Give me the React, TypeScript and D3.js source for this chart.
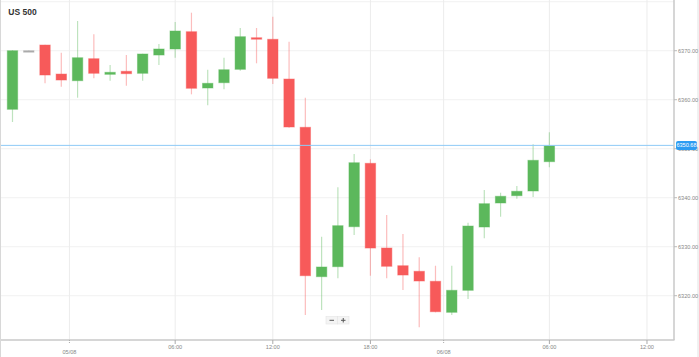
import React from "react";
import * as d3 from "d3";

const title = "US 500";
const opens = [6358.04, 6370.0, 6371.16, 6365.24, 6363.88, 6368.37, 6365.18, 6365.8, 6365.39, 6369.12, 6370.35, 6373.88, 6362.39, 6363.47, 6366.2, 6372.65, 6372.33, 6364.22, 6354.37, 6323.88, 6325.92, 6334.08, 6347.02, 6329.73, 6326.12, 6324.98, 6322.94, 6316.61, 6321.1, 6334.02, 6338.92, 6340.41, 6341.37, 6347.35];
const highs = [6370.1, 6370.1, 6371.2, 6369.6, 6376.06, 6373.35, 6367.08, 6369.12, 6369.4, 6371.37, 6375.86, 6377.76, 6366.12, 6368.57, 6374.63, 6374.63, 6376.94, 6371.84, 6360.41, 6332.04, 6342.12, 6348.92, 6347.84, 6336.47, 6332.59, 6327.84, 6326.12, 6326.12, 6334.9, 6341.57, 6341.02, 6342.39, 6350.9, 6353.35];
const lows = [6355.45, 6369.9, 6363.35, 6362.65, 6360.41, 6364.37, 6363.88, 6362.86, 6363.88, 6367.08, 6368.57, 6361.1, 6358.86, 6362.12, 6365.92, 6367.43, 6363.2, 6354.3, 6316.06, 6317.08, 6323.55, 6332.39, 6324.08, 6323.55, 6321.16, 6313.57, 6316.6, 6316.06, 6319.33, 6331.71, 6336.12, 6339.8, 6340.14, 6346.2];
const closes = [6370.0, 6370.0, 6365.04, 6364.02, 6368.57, 6365.39, 6365.59, 6365.31, 6369.33, 6370.35, 6374.02, 6362.33, 6363.35, 6366.12, 6372.86, 6372.5, 6364.37, 6354.43, 6324.08, 6325.86, 6334.29, 6347.14, 6329.73, 6326.0, 6324.22, 6323.0, 6316.73, 6321.1, 6334.22, 6338.78, 6340.29, 6341.31, 6347.63, 6350.61];
const currentPrice = 6350.68;

const xTickIndex = [3.5, 10, 16, 22, 26.5, 33, 39];
const xTickLabels = ["05/08", "06:00", "12:00", "18:00", "06/08", "06:00", "12:00"];
const xTickIsDate = [true, false, false, false, true, false, false];

const yTicks = [6320, 6330, 6340, 6350, 6360, 6370, 6380];
const yLabelled = [6320, 6330, 6340, 6350, 6360, 6370];

const W = 699;
const H = 357;
const PLOT_R = 674;
const PLOT_B = 340;
const FONT = "'Liberation Sans', Arial, sans-serif";

const GREEN = "#5cb85c";
const RED = "#f75a5a";
const GRAY = "#aaaaaa";

export default function App() {
  const x = d3.scaleLinear().domain([-0.768, 40.66]).range([0, PLOT_R]);
  const y = d3.scaleLinear().domain([6310.96, 6380.35]).range([PLOT_B, 0]);
  const bw = 10.4;

  const candles = opens.map((o, i) => ({ o, h: highs[i], l: lows[i], c: closes[i], i }));

  return (
    <svg
      width={W}
      height={H}
      style={{ position: "absolute", left: 0, top: 0, display: "block", background: "#fff" }}
      fontFamily={FONT}
    >
      <rect x={0} y={0} width={W} height={H} fill="#fff" />
      {/* horizontal grid */}
      {yTicks.map((t) => (
        <line key={"hg" + t} x1={0} x2={PLOT_R} y1={y(t)} y2={y(t)} stroke="#f1f1f1" strokeWidth={1} />
      ))}
      {/* vertical grid */}
      {xTickIndex.map((t, k) => (
        <line key={"vg" + k} x1={x(t)} x2={x(t)} y1={0} y2={PLOT_B} stroke="#ececec" strokeWidth={1} />
      ))}
      {/* candles */}
      {candles.map((d) => {
        const col = d.c > d.o ? GREEN : d.c < d.o ? RED : GRAY;
        const cx = x(d.i);
        const top = y(Math.max(d.o, d.c));
        const bot = y(Math.min(d.o, d.c));
        const hgt = Math.max(1.5, bot - top);
        return (
          <g key={"c" + d.i}>
            <line x1={cx} x2={cx} y1={y(d.h)} y2={y(d.l)} stroke={col} strokeOpacity={0.4} strokeWidth={1.2} />
            <rect
              x={cx - bw / 2}
              y={top}
              width={bw}
              height={hgt}
              fill={col}
              stroke={col}
              strokeOpacity={0.45}
              strokeWidth={1}
            />
          </g>
        );
      })}
      {/* current price line */}
      <line x1={0} x2={PLOT_R} y1={y(currentPrice)} y2={y(currentPrice)} stroke="#8fcaf6" strokeWidth={1} />
      {/* axes */}
      <line x1={0} x2={PLOT_R + 0.5} y1={PLOT_B} y2={PLOT_B} stroke="#c8c8c8" strokeWidth={1.5} />
      <line x1={PLOT_R} x2={PLOT_R} y1={0} y2={PLOT_B} stroke="#c8c8c8" strokeWidth={1.5} />
      <line x1={0.5} x2={0.5} y1={0} y2={H} stroke="#d8d8d8" strokeWidth={1} />
      <line x1={W - 1} x2={W - 1} y1={0} y2={H} stroke="#e2e2e2" strokeWidth={1} />
      {/* y labels */}
      {yLabelled.map((t) => (
        <g key={"yl" + t}>
          <line x1={PLOT_R} x2={PLOT_R + 3} y1={y(t)} y2={y(t)} stroke="#bbb" strokeWidth={1} />
          <text x={PLOT_R + 4} y={y(t)} dy="0.35em" fontSize={5.6} fill="#888">
            {t.toFixed(2)}
          </text>
        </g>
      ))}
      {/* current price label */}
      <rect x={PLOT_R + 2} y={y(currentPrice) - 4.5} width={21} height={9} rx={2} fill="#2d9cf2" />
      <text x={PLOT_R + 12.5} y={y(currentPrice)} dy="0.35em" fontSize={5.6} fill="#fff" textAnchor="middle">
        {currentPrice.toFixed(2)}
      </text>
      {/* x ticks & labels */}
      {xTickIndex.map((t, k) => (
        <g key={"xl" + k}>
          <line
            x1={x(t)}
            x2={x(t)}
            y1={PLOT_B}
            y2={PLOT_B + 4}
            stroke="#aaa"
            strokeWidth={1}
            strokeDasharray={xTickIsDate[k] ? "1,1" : undefined}
          />
          <text
            x={x(t)}
            y={xTickIsDate[k] ? 352.5 : 346.7}
            dy="0.35em"
            fontSize={5.6}
            fill="#888"
            textAnchor="middle"
          >
            {xTickLabels[k]}
          </text>
        </g>
      ))}
      {/* title */}
      <text x={8.3} y={15} fontSize={8.5} fontWeight="bold" fill="#333">
        {title}
      </text>
      {/* zoom buttons */}
      <g>
        <rect x={326} y={316.5} width={11.5} height={7.5} fill="#f4f4f4" stroke="#e4e4e4" strokeWidth={0.6} />
        <rect x={337.5} y={316.5} width={11.5} height={7.5} fill="#f4f4f4" stroke="#e4e4e4" strokeWidth={0.6} />
        <line x1={329.5} x2={334} y1={320.3} y2={320.3} stroke="#555" strokeWidth={1} />
        <line x1={341} x2={345.5} y1={320.3} y2={320.3} stroke="#555" strokeWidth={1} />
        <line x1={343.25} x2={343.25} y1={318} y2={322.5} stroke="#555" strokeWidth={1} />
      </g>
    </svg>
  );
}
